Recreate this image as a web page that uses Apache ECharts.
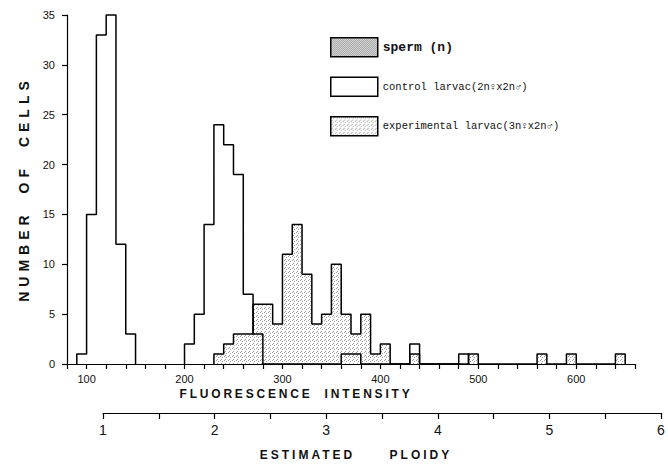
<!DOCTYPE html>
<html>
<head>
<meta charset="utf-8">
<script src="https://cdn.jsdelivr.net/npm/echarts@6/dist/echarts.min.js"></script>
<style>
  html, body { margin: 0; background: #fff; }
  #main { width: 668px; height: 464px; }
</style>
</head>
<body>
<div id="main"></div>
<script>
// histogram bins are 10 units of fluorescence wide
const binWidth = 10;

const names = ['sperm (n)', 'control larvac(2n♀x2n♂)', 'experimental larvac(3n♀x2n♂)'];

const spermStart = 90;
const spermCounts = [1, 15, 33, 35, 12, 3];

const controlStart = 200;
const controlCounts = [2, 5, 14, 24, 22, 19, 7, 3, 0, 0, 0, 0, 0, 0, 0, 0, 1, 1,
  0, 0, 0, 0, 0, 2, 0, 0, 0, 0, 1];

const expStart = 230;
const expCounts = [1, 2, 3, 3, 6, 6, 4, 11, 14, 9, 4, 5, 10, 5, 3, 5, 1, 2,
  0, 0, 1, 0, 0, 0, 0, 0, 1, 0, 0, 0, 0, 0, 0, 1, 0, 0, 1, 0, 0, 0, 0, 1];

const ploidyTicks = [1, 2, 3, 4, 5, 6];

// outline points of a histogram, drawn as a step line
function steps(start, counts) {
  const pts = [[start, 0]];
  counts.forEach((c, i) => pts.push([start + i * binWidth, c]));
  pts.push([start + counts.length * binWidth, 0]);
  return pts;
}

// small stipple tiles
function stipple(dots, alpha) {
  const cv = document.createElement('canvas');
  cv.width = 4;
  cv.height = 4;
  const ctx = cv.getContext('2d');
  ctx.fillStyle = 'rgba(0,0,0,' + alpha + ')';
  dots.forEach(d => ctx.fillRect(d[0], d[1], 1, 1));
  return { image: cv, repeat: 'repeat', imageWidth: 4, imageHeight: 4 };
}
const lightDots = stipple([[0, 0], [2, 1], [1, 3]], 0.38);
const darkDots = stipple([[0, 0], [2, 0], [1, 1], [3, 1], [0, 2], [2, 2], [3, 3], [1, 3]], 0.5);

var chartDom = document.getElementById('main');
var myChart = echarts.init(chartDom, null, { renderer: 'svg' });

const axisFont = { fontFamily: 'Liberation Sans', color: '#111' };
const black = { color: '#000', width: 1.2 };

function histLine(name, start, counts, fill) {
  const s = {
    name: name,
    type: 'line',
    step: 'end',
    data: steps(start, counts),
    showSymbol: false,
    silent: true,
    clip: false,
    lineStyle: { color: '#000', width: 1.5 },
    itemStyle: { color: '#000' }
  };
  if (fill) s.areaStyle = { color: fill, opacity: 1 };
  return s;
}

var option = {
  animation: false,
  backgroundColor: '#fff',
  grid: [
    { left: 67, right: 33, top: 15, bottom: 100 },
    { left: 103, right: 7, top: 412, height: 1 }
  ],
  xAxis: [
    {
      type: 'value', gridIndex: 0, min: 80, max: 660, interval: 20,
      axisLine: { lineStyle: black },
      axisTick: { length: 5, lineStyle: black },
      axisLabel: Object.assign({ fontSize: 11, margin: 9,
        formatter: v => (v % 100 === 0 ? v : '') }, axisFont),
      splitLine: { show: false }
    },
    {
      type: 'value', gridIndex: 1, min: 1, max: 6, interval: 0.5,
      axisLine: { lineStyle: black },
      axisTick: { length: 6, lineStyle: black },
      axisLabel: Object.assign({ fontSize: 14, margin: 10,
        formatter: v => (ploidyTicks.indexOf(v) >= 0 ? v : '') }, axisFont),
      splitLine: { show: false }
    }
  ],
  yAxis: [
    {
      type: 'value', gridIndex: 0, min: 0, max: 35, interval: 5,
      axisLine: { show: true, lineStyle: black },
      axisTick: { show: true, length: 5, lineStyle: black },
      axisLabel: Object.assign({ fontSize: 11, margin: 12 }, axisFont),
      splitLine: { show: false }
    },
    { type: 'value', gridIndex: 1, min: 0, max: 1, show: false }
  ],
  legend: {
    orient: 'vertical',
    left: 325,
    top: 32,
    itemWidth: 47,
    itemHeight: 19,
    itemGap: 19,
    icon: 'rect',
    selectedMode: false,
    textStyle: { fontFamily: 'Liberation Mono', fontSize: 10.5, color: '#111' },
    data: [
      { name: names[0], itemStyle: { color: darkDots, borderColor: '#000', borderWidth: 1.5 },
        textStyle: { fontSize: 13, fontWeight: 'bold' } },
      { name: names[1], itemStyle: { color: '#fff', borderColor: '#000', borderWidth: 1.5 } },
      { name: names[2], itemStyle: { color: lightDots, borderColor: '#000', borderWidth: 1.5 } }
    ]
  },
  graphic: [
    { type: 'text', x: 24, y: 189, rotation: Math.PI / 2,
      style: { text: 'NUMBER OF CELLS', fontFamily: 'Liberation Sans', fontSize: 14, fontWeight: 'bold',
        fill: '#111', align: 'center', verticalAlign: 'middle' } },
    { type: 'text', x: 296, y: 394,
      style: { text: 'FLUORESCENCE INTENSITY', fontFamily: 'Liberation Sans', fontSize: 12, fontWeight: 'bold',
        fill: '#111', align: 'center', verticalAlign: 'middle' } },
    { type: 'text', x: 356, y: 455,
      style: { text: 'ESTIMATED PLOIDY', fontFamily: 'Liberation Sans', fontSize: 12, fontWeight: 'bold',
        fill: '#111', align: 'center', verticalAlign: 'middle' } }
  ],
  series: [
    histLine(names[2], expStart, expCounts, lightDots),
    histLine(names[1], controlStart, controlCounts, null),
    histLine(names[0], spermStart, spermCounts, null)
  ]
};

option && myChart.setOption(option);

// the printed titles are letter spaced
const spacing = {
  'NUMBER OF CELLS': [5, 8],
  'FLUORESCENCE INTENSITY': [2.8, 6],
  'ESTIMATED PLOIDY': [3, 28]
};
function applySpacing() {
  chartDom.querySelectorAll('text').forEach(t => {
    const key = t.textContent.replace(/\s+/g, ' ').trim();
    const s = spacing[key];
    if (s) {
      t.setAttribute('letter-spacing', s[0]);
      t.setAttribute('word-spacing', s[1]);
      t.style.letterSpacing = s[0] + 'px';
      t.style.wordSpacing = s[1] + 'px';
    }
  });
}
myChart.on('finished', applySpacing);
applySpacing();
setTimeout(applySpacing, 0);
setTimeout(applySpacing, 100);
requestAnimationFrame(() => requestAnimationFrame(applySpacing));
</script>
</body>
</html>
